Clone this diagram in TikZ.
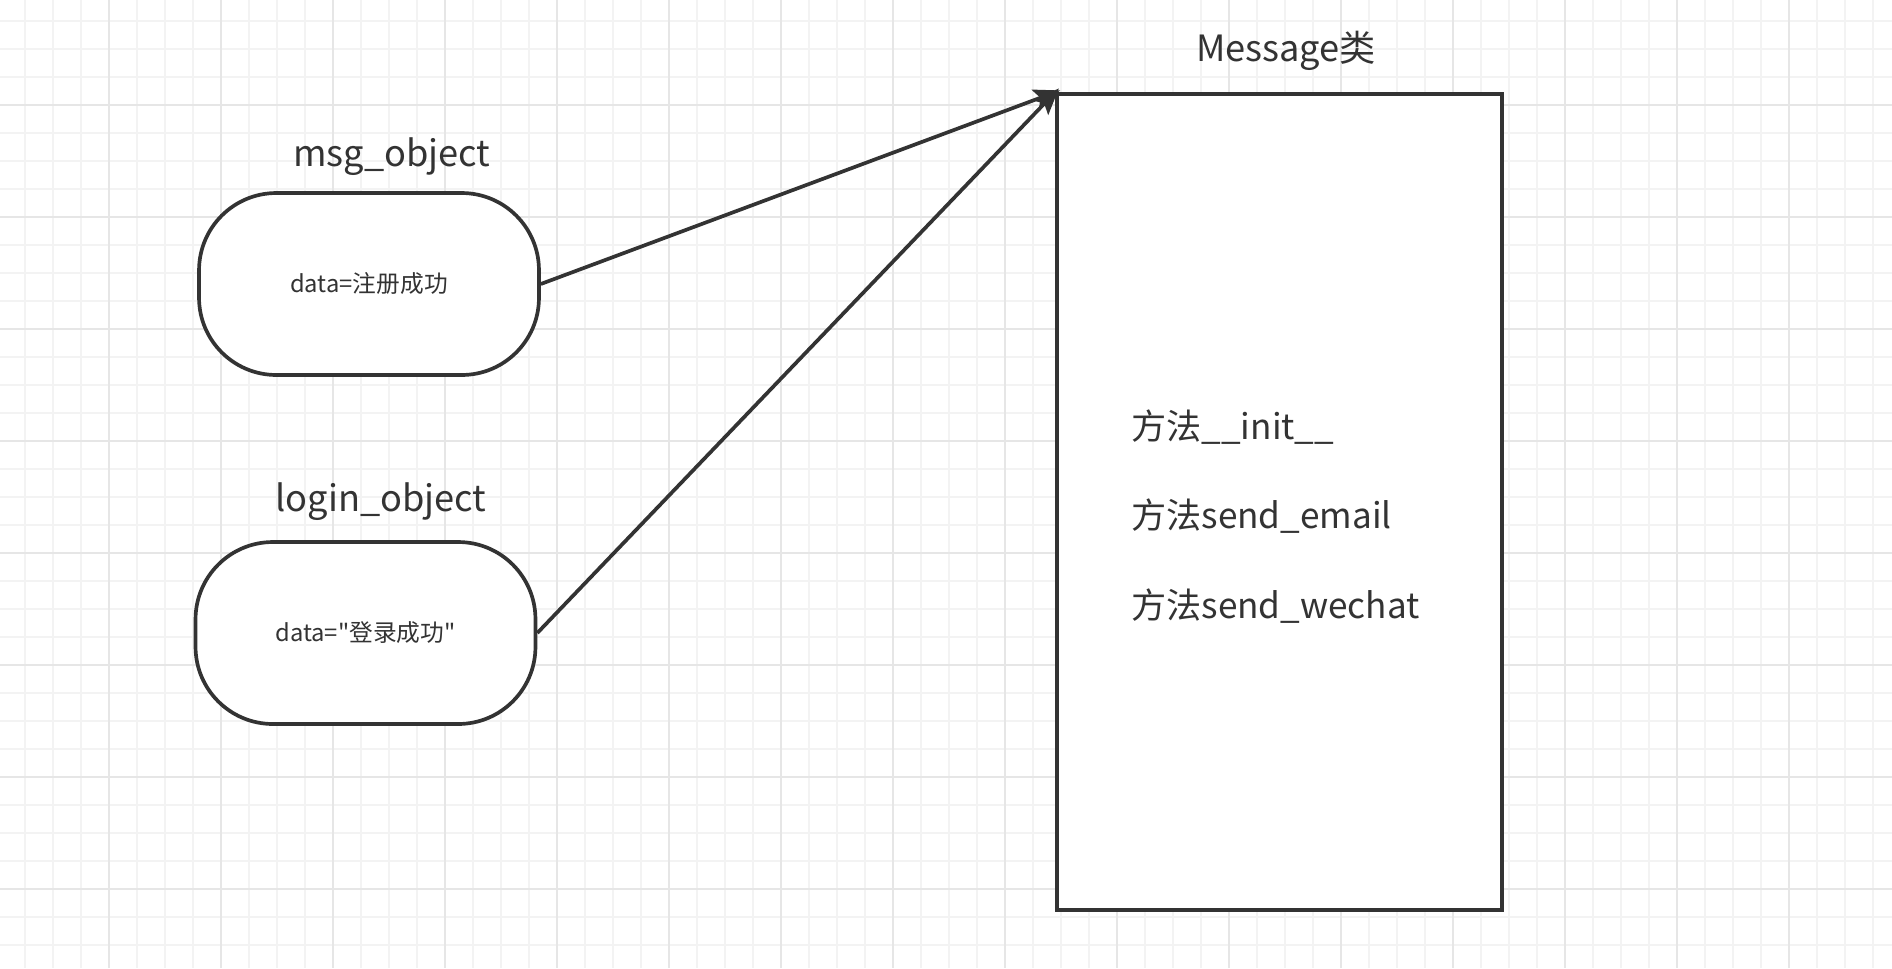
\documentclass[tikz,border=0pt]{standalone}
\usepackage{fontspec}
\setmainfont{Noto Sans CJK SC}
\usepackage{tikz}
\usetikzlibrary{arrows.meta, positioning}
\definecolor{inkgray}{HTML}{333333}
\definecolor{gridminor}{HTML}{F3F3F3}
\definecolor{gridmajor}{HTML}{E6E6E6}

\tikzset{
  objbox/.style={draw=inkgray, line width=2.1pt, fill=white, rounded corners=44pt,
                 minimum width=6.8cm, minimum height=3.64cm, inner sep=0pt,
                 font=\fontsize{13.5}{16}\selectfont, text=inkgray},
  clsbox/.style={draw=inkgray, line width=2.1pt, fill=white,
                 minimum width=8.9cm, minimum height=16.32cm, inner sep=0pt},
  objlabel/.style={font=\fontsize{20.6}{25}\selectfont, text=inkgray},
  methodtext/.style={font=\fontsize{20}{25}\selectfont, text=inkgray, anchor=west, inner sep=0pt},
  link/.style={draw=inkgray, line width=2.1pt, shorten >=-3pt,
               -{Stealth[length=15pt, width=12pt, inset=3pt]}}
}

\begin{document}
\begin{tikzpicture}[x=0.02cm, y=-0.02cm]
  \useasboundingbox (0,0) rectangle (1892,968);
  \fill[white] (0,0) rectangle (1892,968);
  % background grid
  \foreach \gx in {24.6,52.6,...,1892} \draw[gridminor, line width=1.1pt] (\gx,0) -- (\gx,968);
  \foreach \gy in {21,49,...,968} \draw[gridminor, line width=1.1pt] (0,\gy) -- (1892,\gy);
  \foreach \gx in {108.6,220.6,...,1892} \draw[gridmajor, line width=1.1pt] (\gx,0) -- (\gx,968);
  \foreach \gy in {105,217,...,968} \draw[gridmajor, line width=1.1pt] (0,\gy) -- (1892,\gy);

  % class box
  \node[clsbox] (msgcls) at (1279.5, 502) {};
  \node[objlabel] (clstitle) at (1286, 51) {Message类};
  \node[methodtext] (mInit) at (1131, 427) {方法\_\_init\_\_};
  \node[methodtext] (mEmail) at (1131, 516) {方法send\_email};
  \node[methodtext] (mWechat) at (1131, 606) {方法send\_wechat};

  % objects
  \node[objbox] (msgobj) at (369, 284) {data=注册成功};
  \node[objlabel] (msglabel) at (392, 157) {msg\_object};
  \node[objbox] (loginobj) at (365.5, 633) {data=\textquotedbl 登录成功\textquotedbl};
  \node[objlabel] (loginlabel) at (381, 502) {login\_object};

  \draw[link] (msgobj.east) -- (msgcls.north west);
  \draw[link] (loginobj.east) -- (msgcls.north west);
\end{tikzpicture}
\end{document}
